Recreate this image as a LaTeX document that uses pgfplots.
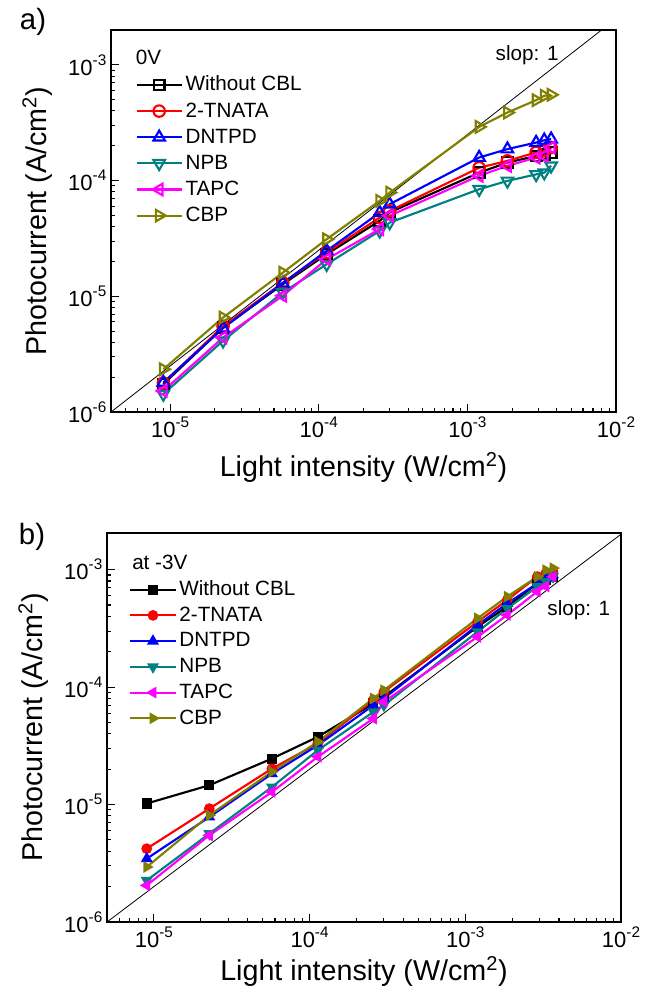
\documentclass[border=0pt]{standalone}
\usepackage{fontspec}
\setmainfont{Liberation Sans}
\usepackage{pgfplots}
\usepackage{pgfplotstable}
\pgfplotsset{compat=1.18}
\definecolor{cteal}{RGB}{0,128,128}
\definecolor{colive}{RGB}{128,128,0}
\definecolor{cmag}{RGB}{255,0,255}

\pgfplotstableread{
x        wo       tnata    dntpd    npb      tapc     cbp
9.0e-6   1.74e-6  1.78e-6  1.80e-6  1.43e-6  1.52e-6  2.34e-6
2.27e-5  5.36e-6  5.50e-6  5.30e-6  4.12e-6  4.40e-6  6.55e-6
5.73e-5  1.27e-5  1.31e-5  1.30e-5  1.08e-5  1.01e-5  1.60e-5
1.13e-4  2.31e-5  2.39e-5  2.47e-5  1.89e-5  2.09e-5  3.11e-5
2.57e-4  4.49e-5  4.79e-5  5.28e-5  3.67e-5  3.80e-5  6.68e-5
3.00e-4  5.30e-5  5.47e-5  6.25e-5  4.33e-5  4.96e-5  7.87e-5
1.20e-3  1.17e-4  1.29e-4  1.58e-4  8.41e-5  1.10e-4  2.91e-4
1.86e-3  1.43e-4  1.48e-4  1.87e-4  9.93e-5  1.34e-4  3.87e-4
2.90e-3  1.63e-4  1.75e-4  2.13e-4  1.13e-4  1.58e-4  4.95e-4
3.29e-3  1.69e-4  1.81e-4  2.23e-4  1.17e-4  1.63e-4  5.40e-4
3.66e-3  1.75e-4  1.93e-4  2.28e-4  1.34e-4  1.93e-4  5.51e-4
}\tableA

\pgfplotstableread{
x        wo       tnata    dntpd    npb      tapc     cbp
9.0e-6   1.02e-5  4.21e-6  3.46e-6  2.26e-6  2.05e-6  2.94e-6
2.27e-5  1.46e-5  9.23e-6  7.83e-6  5.65e-6  5.47e-6  8.10e-6
5.73e-5  2.46e-5  2.02e-5  1.83e-5  1.41e-5  1.28e-5  1.90e-5
1.13e-4  3.77e-5  3.31e-5  3.20e-5  2.90e-5  2.55e-5  3.42e-5
2.57e-4  7.24e-5  7.74e-5  7.01e-5  6.15e-5  5.40e-5  8.00e-5
3.00e-4  8.26e-5  9.12e-5  8.00e-5  7.00e-5  7.50e-5  9.40e-5
1.20e-3  3.27e-4  3.60e-4  3.37e-4  2.96e-4  2.68e-4  3.85e-4
1.86e-3  4.84e-4  5.51e-4  5.16e-4  4.67e-4  4.11e-4  5.89e-4
2.90e-3  7.64e-4  8.72e-4  7.64e-4  7.16e-4  6.50e-4  8.70e-4
3.29e-3  8.16e-4  9.30e-4  8.43e-4  7.90e-4  7.20e-4  9.90e-4
3.66e-3  8.72e-4  9.60e-4  9.00e-4  8.70e-4  8.70e-4  1.03e-3
}\tableB

\newcommand{\tsup}[1]{\raisebox{0.45em}{\fontsize{11.5}{12}\selectfont #1}}
\pgfplotsset{
  log number format basis/.code 2 args={#1\tsup{\pgfmathprintnumber[assume math mode=true]{#2}}},
  every axis/.append style={
    axis line style={line width=1pt},
    tick align=inside, tick pos=left,
    major tick length=6pt, minor tick length=3pt,
    tick style={black, line width=0.8pt},
    label style={font=\fontsize{21.5}{25}\selectfont},
    legend cell align=left,
  },
  legend image code/.code={\draw[mark repeat=2,mark phase=2] plot coordinates {(0pt,0pt) (17pt,0pt) (34pt,0pt)};},
  every axis plot/.append style={line width=1.6pt},
}

\begin{document}
\begin{tikzpicture}
\useasboundingbox (0,0) rectangle (495pt,751.5pt);

% ---------- panel a ----------
\begin{axis}[xmode=log, ymode=log, scale only axis,
  at={(83.25pt,442.5pt)}, anchor=south west,
  width=378.75pt, height=286.5pt,
  xmin=4e-6, xmax=1e-2, ymin=1e-6, ymax=2e-3,
  xticklabel style={font=\fontsize{16.5}{18}\selectfont},
  yticklabel style={font=\fontsize{16.5}{18}\selectfont},
  xlabel={Light intensity (W/cm\textsuperscript{2})},
  ylabel={Photocurrent (A/cm\textsuperscript{2})},
  xlabel shift=4pt, ylabel shift=5pt,
  legend style={at={(0.04,0.898)}, anchor=north west, draw=none, fill=none,
    font=\fontsize{15.5}{18}\selectfont,
    nodes={inner ysep=1.8pt, text height=12.5pt, text depth=3.5pt}},
]
\addplot[black, line width=0.6pt, no marks, forget plot] coordinates {(4e-6,1e-6) (1e-2,2.5e-3)};
\addplot[black, mark=square, mark size=4pt, mark options={fill=white, solid}] table[x=x,y=wo]{\tableA};
\addlegendentry{Without CBL}
\addplot[red, mark=o, mark size=4.3pt, mark options={fill=white, solid}] table[x=x,y=tnata]{\tableA};
\addlegendentry{2-TNATA}
\addplot[blue, mark=triangle, mark size=5pt, mark options={fill=white, solid}] table[x=x,y=dntpd]{\tableA};
\addlegendentry{DNTPD}
\addplot[cteal, mark=triangle, mark size=5pt, mark options={fill=white, solid, rotate=180}] table[x=x,y=npb]{\tableA};
\addlegendentry{NPB}
\addplot[cmag, mark=triangle, mark size=5pt, mark options={fill=white, solid, rotate=90}] table[x=x,y=tapc]{\tableA};
\addlegendentry{TAPC}
\addplot[colive, mark=triangle, mark size=5pt, mark options={fill=white, solid, rotate=270}] table[x=x,y=cbp]{\tableA};
\addlegendentry{CBP}
\node[anchor=west, font=\fontsize{15.5}{18}\selectfont] at (rel axis cs:0.04,0.929) {0V};
\node[font=\fontsize{15.5}{18}\selectfont] at (rel axis cs:0.824,0.935) {slop: 1};
\end{axis}

% ---------- panel b ----------
\begin{axis}[xmode=log, ymode=log, scale only axis,
  at={(80.25pt,60pt)}, anchor=south west,
  width=385.5pt, height=291.75pt,
  xmin=5e-6, xmax=1e-2, ymin=1e-6, ymax=2.05e-3,
  xticklabel style={font=\fontsize{16.5}{18}\selectfont},
  yticklabel style={font=\fontsize{16.5}{18}\selectfont},
  xlabel={Light intensity (W/cm\textsuperscript{2})},
  ylabel={Photocurrent (A/cm\textsuperscript{2})},
  ylabel shift=5pt,
  legend style={at={(0.035,0.895)}, anchor=north west, draw=none, fill=none,
    font=\fontsize{15.5}{18}\selectfont,
    nodes={inner ysep=1.8pt, text height=12.2pt, text depth=3.5pt}},
]
\addplot[black, line width=0.6pt, no marks, forget plot] coordinates {(5e-6,1e-6) (1e-2,2e-3)};
\addplot[black, mark=square*, mark size=3pt, mark options={solid}] table[x=x,y=wo]{\tableB};
\addlegendentry{Without CBL}
\addplot[red, mark=*, mark size=3.2pt, mark options={solid}] table[x=x,y=tnata]{\tableB};
\addlegendentry{2-TNATA}
\addplot[blue, mark=triangle*, mark size=3.6pt, mark options={solid}] table[x=x,y=dntpd]{\tableB};
\addlegendentry{DNTPD}
\addplot[cteal, mark=triangle*, mark size=3.6pt, mark options={solid, rotate=180}] table[x=x,y=npb]{\tableB};
\addlegendentry{NPB}
\addplot[cmag, mark=triangle*, mark size=3.6pt, mark options={solid, rotate=90}] table[x=x,y=tapc]{\tableB};
\addlegendentry{TAPC}
\addplot[colive, mark=triangle*, mark size=3.6pt, mark options={solid, rotate=270}] table[x=x,y=cbp]{\tableB};
\addlegendentry{CBP}
\node[anchor=west, font=\fontsize{15.5}{18}\selectfont] at (rel axis cs:0.04,0.925) {at -3V};
\node[font=\fontsize{15.5}{18}\selectfont] at (rel axis cs:0.918,0.802) {slop: 1};
\end{axis}

\node[font=\fontsize{22}{26}\selectfont] at (24.75pt,735pt) {a)};
\node[font=\fontsize{22}{26}\selectfont] at (24pt,348.75pt) {b)};
\end{tikzpicture}
\end{document}
